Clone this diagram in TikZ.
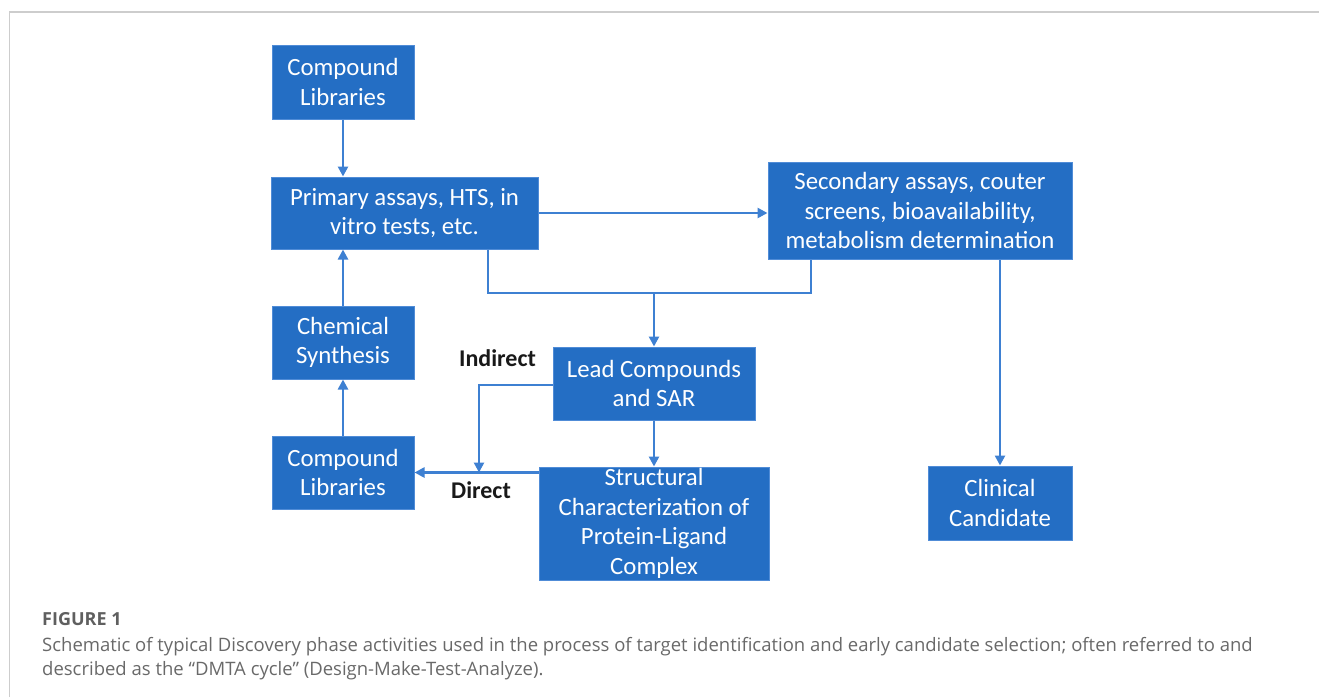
\documentclass[tikz,border=0pt]{standalone}
\usepackage{fontspec}
\setmainfont{Carlito}
\newfontfamily\capfont{Open Sans}
\usetikzlibrary{arrows.meta}

\definecolor{boxblue}{RGB}{36,110,196}
\definecolor{edgeblue}{RGB}{80,140,215}
\definecolor{lineblue}{RGB}{62,128,210}
\definecolor{framegray}{RGB}{205,205,205}
\definecolor{capgray}{RGB}{105,105,105}

\tikzset{
	stage/.style={draw=edgeblue, line width=1pt, fill=boxblue, text=white, align=center, inner sep=0pt, font=\fontsize{24.8}{29.5}\selectfont},
	link/.style={lineblue, line width=2.8pt},
	flow/.style={link, -{Triangle[length=10pt,width=10pt]}},
	tag/.style={text=black!90, font=\fontsize{24}{29}\selectfont\bfseries},
}

\begin{document}
\begin{tikzpicture}[x=1pt,y=-1pt]
	\useasboundingbox (0,0) rectangle (1319,697);
	%Columns: left stack, middle stack, right stack
	\pgfmathsetmacro{\xl}{343}
	\pgfmathsetmacro{\xm}{654}
	\pgfmathsetmacro{\xr}{1000}

	%Frame of the figure panel
	\draw[framegray, line width=1.5pt] (9.5,697) -- (9.5,12) -- (1319,12);

	%Boxes of the cycle
	\node[stage, minimum width=142, minimum height=74] (libtop) at (\xl,82) {Compound\\Libraries};
	\node[stage, minimum width=267, minimum height=72] (primary) at (404.5,213) {Primary assays, HTS, in\\vitro tests, etc.};
	\node[stage, minimum width=304, minimum height=97] (secondary) at (920,210.5) {Secondary assays, couter\\screens, bioavailability,\\metabolism determination};
	\node[stage, minimum width=142, minimum height=73] (synth) at (\xl,342.5) {Chemical\\Synthesis};
	\node[stage, minimum width=142, minimum height=73] (libbot) at (\xl,472.5) {Compound\\Libraries};
	\node[stage, minimum width=202, minimum height=73] (lead) at (\xm,383.5) {Lead Compounds\\and SAR};
	\node[stage, minimum width=230, minimum height=113] (struct) at (\xm,523.5) {Structural\\Characterization of\\Protein-Ligand\\Complex};
	\node[stage, minimum width=144, minimum height=74] (clinical) at (\xr,503) {Clinical\\Candidate};

	%Bends of the connectors
	\coordinate (pbend) at (488,293);
	\coordinate (sbend) at (811,293);
	\coordinate (join) at (\xm,293);
	\coordinate (ibend) at (479,385);

	%Connectors
	\draw[flow] (libtop) -- (primary.north -| libtop);
	\draw[flow] (primary.east) -- (primary.east -| secondary.west);
	\draw[link] (primary.south -| pbend) -- (pbend) -- (sbend) -- (secondary.south -| sbend);
	\draw[flow] (join) -- (lead);
	\draw[flow] (secondary.south -| clinical) -- (clinical);
	\draw[flow] (synth) -- (primary.south -| synth);
	\draw[flow] (libbot) -- (synth);
	\draw[flow] (lead.west |- ibend) -- (ibend) -- (ibend |- libbot.east);
	\draw[flow] (libbot.east -| struct.west) -- (libbot.east);
	\draw[flow] (lead) -- (struct);

	\node[tag] (indirect) at (497.5,358) {Indirect};
	\node[tag] (direct) at (481,490) {Direct};

	%Caption
	\node[anchor=west, inner sep=0pt, text=capgray!90!black, font=\capfont\fontsize{18}{24}\selectfont\bfseries] (figno) at (42,619) {FIGURE 1};
	\node[anchor=base west, inner sep=0pt, text=capgray, font=\capfont\fontsize{18.5}{24}\selectfont] (capone) at (42,651) {Schematic of typical Discovery phase activities used in the process of target identification and early candidate selection; often referred to and};
	\node[anchor=base west, inner sep=0pt, text=capgray, font=\capfont\fontsize{18.5}{24}\selectfont] (captwo) at (42,675) {described as the “DMTA cycle” (Design-Make-Test-Analyze).};
\end{tikzpicture}
\end{document}
